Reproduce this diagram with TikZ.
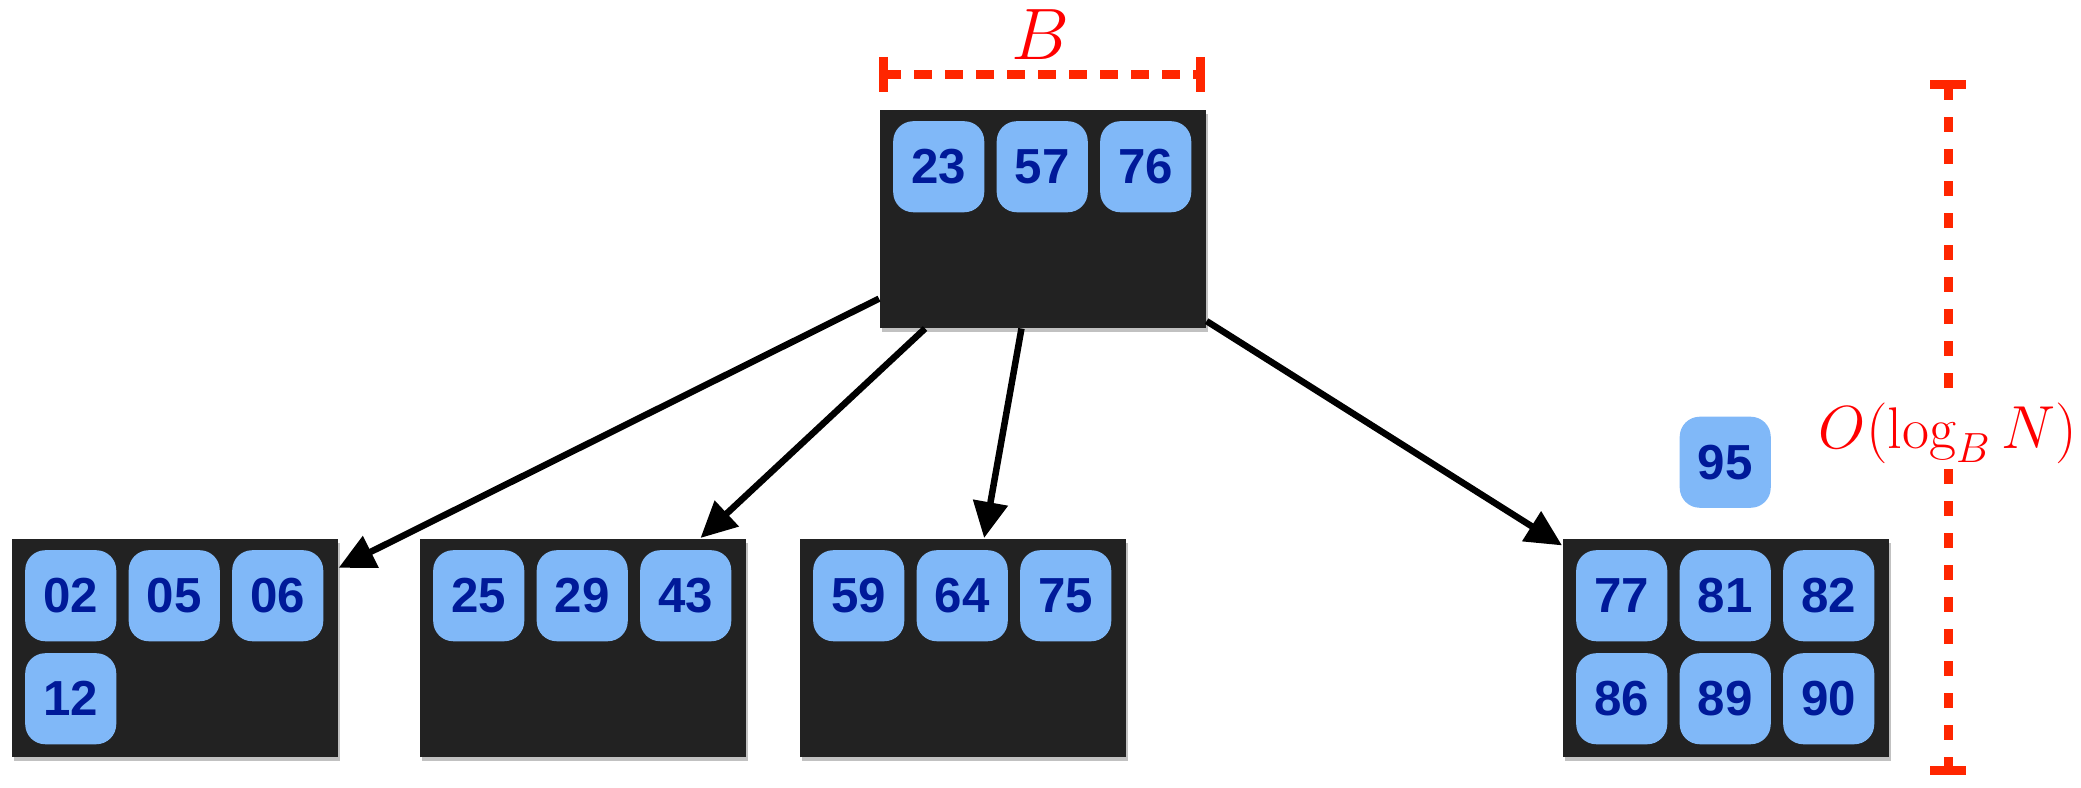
\documentclass[tikz,border=0pt]{standalone}
\usetikzlibrary{arrows.meta}
\usetikzlibrary{shadows}
\usepackage{fontspec}
\setsansfont{Liberation Sans}
\usepackage{amsmath}

\definecolor{blockgray}{HTML}{222222}
\definecolor{keyblue}{HTML}{80B8F8}
\definecolor{keynavy}{HTML}{001A99}
\definecolor{bracketred}{HTML}{FF2600}

\begin{document}
\begin{tikzpicture}[x=0.01cm, y=-0.01cm]
\tikzset{block/.style = {fill=blockgray, minimum width=3.26cm, minimum height=2.18cm, inner sep=0pt, anchor=north west,
   drop shadow={shadow xshift=0.02cm, shadow yshift=-0.04cm, opacity=.35, fill=black!70}}}
\tikzset{key/.style = {fill=keyblue, rounded corners=0.2cm, minimum size=0.91cm, inner sep=0pt, anchor=north west,
   text=keynavy, font=\sffamily\bfseries\fontsize{14}{16}\selectfont}}
\tikzset{edge/.style = {-{Triangle[length=0.36cm, width=0.34cm]}, line width=0.065cm}}
\tikzset{bracket/.style = {draw=bracketred, line width=0.09cm}}

\useasboundingbox (0,0) rectangle (2081,788);

\node[block] (root)  at (879,109) {};
\node[block] (leafA) at (11,538) {};
\node[block] (leafB) at (419,538) {};
\node[block] (leafC) at (799,538) {};
\node[block] (leafD) at (1562,538) {};

% first row of keys
\foreach \blk/\keys in {root/{23,57,76}, leafA/{02,05,06}, leafB/{25,29,43}, leafC/{59,64,75}, leafD/{77,81,82}}
  {\foreach \k [count=\i from 0] in \keys
     {\node[key] (key\k) at ([shift={(13.5+103.5*\i, 11.5)}]\blk.north west) {\k};}}

% second row
\node[key] (key12) at ([shift={(13.5, 114.5)}]leafA.north west) {12};
\foreach \k [count=\i from 0] in {86, 89, 90}
  {\node[key] (key\k) at ([shift={(13.5+103.5*\i, 114.5)}]leafD.north west) {\k};}

\node[key, anchor=south] (key95) at ([yshift=0.41cm]key81.north) {95};

\draw[edge] (root.206) -- (leafA.26);
\draw[edge] (root.223) -- (leafB.43);
\draw[edge] (root.259) -- (leafC.79);
\draw[edge] (root.328) -- (leafD.148);

% block size B
\draw[bracket, dash pattern=on 0.18cm off 0.13cm] (883,75) -- (1200,75);
\draw[bracket] (883,57) -- (883,92);
\draw[bracket] (1200,57) -- (1200,92);
\node[text=red, font=\fontsize{21}{24}\selectfont] (labelB) at (1040,35) {$B$};

% height
\draw[bracket, dash pattern=on 0.15cm off 0.17cm] (1948,85) -- (1948,770);
\draw[bracket] (1930,85) -- (1966,85);
\draw[bracket] (1930,770) -- (1966,770);
\node[fill=white, text=red, inner sep=1pt, font=\fontsize{16.7}{19}\selectfont] (labelH) at (1948,433) {$O(\log_B N)$};

\end{tikzpicture}
\end{document}
